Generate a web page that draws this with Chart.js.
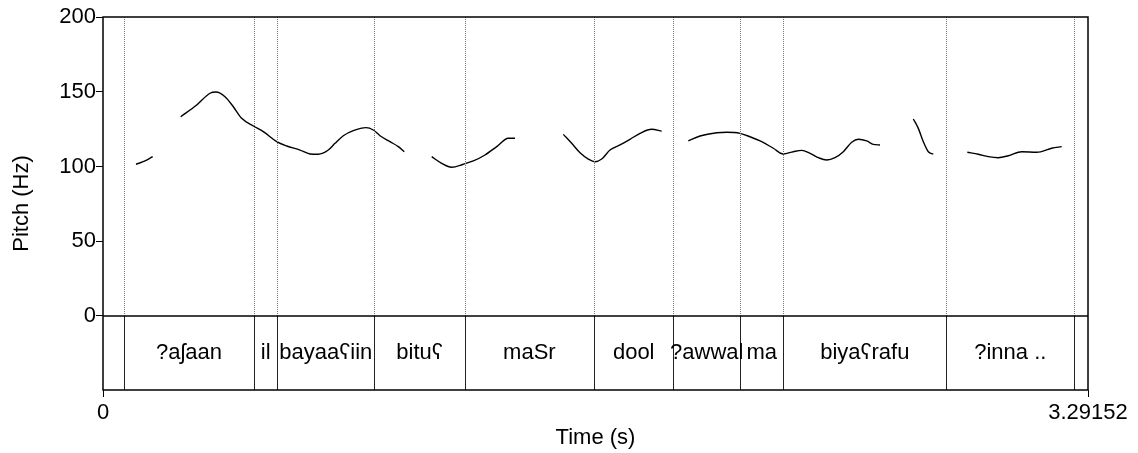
<!DOCTYPE html>
<html>
<head>
<meta charset="utf-8">
<script src="https://cdn.jsdelivr.net/npm/chart.js@4"></script>
<style>
  body { margin: 0; background: #fff; }
  #wrap { width: 1138px; height: 453px; position: relative; }
</style>
</head>
<body>
<div id="wrap"><canvas id="pitchChart"></canvas></div>
<script>
/* pitch track (s, Hz); null marks an unvoiced gap */
const pitchTimes = [
  0.1103, 0.1404, 0.1661, 0.20,
  0.2596, 0.3131, 0.3576, 0.3776, 0.4077, 0.4355, 0.4634, 0.5023, 0.5357, 0.5804,
  0.6139, 0.6583, 0.6917, 0.7195, 0.7530, 0.7753, 0.8031, 0.8365, 0.8789, 0.9033,
  0.9256, 0.9591, 0.9868, 1.0068, 1.05,
  1.0984, 1.1318, 1.1652, 1.2040, 1.2374, 1.2765, 1.3156, 1.3544, 1.3768, 1.45,
  1.5382, 1.5662, 1.5940, 1.6218, 1.6441, 1.6665, 1.6942, 1.7276, 1.7611, 1.7945,
  1.8336, 1.8670, 1.90,
  1.9559, 1.9950, 2.0508, 2.0842, 2.1287, 2.1621, 2.2012, 2.2399, 2.2733, 2.3068,
  2.3347, 2.3626, 2.3903, 2.4183, 2.4461, 2.4739, 2.5019, 2.5240, 2.5520, 2.5741,
  2.5965, 2.65,
  2.7078, 2.7245, 2.7412, 2.7579, 2.7746, 2.83,
  2.8883, 2.9250, 2.9584, 2.9918, 3.0253, 3.0700, 3.1201, 3.1702, 3.2037
];
const pitchHz = [
  101.5, 103.7, 106.6, null,
  133.3, 141.1, 149.0, 149.8, 146.7, 140.0, 132.2, 127.1, 123.3, 116.6,
  113.7, 111.0, 108.4, 108.2, 111.0, 115.5, 120.6, 124.0, 126.0, 124.4,
  120.6, 116.6, 113.3, 109.9, null,
  106.6, 102.1, 99.5, 101.5, 103.7, 107.7, 113.3, 118.9, 118.9, null,
  121.5, 115.5, 109.2, 105.0, 103.2, 105.0, 111.0, 114.4, 118.2, 122.2,
  124.9, 123.7, null,
  117.1, 120.4, 122.6, 122.9, 122.2, 119.9, 116.6, 112.2, 108.4, 109.9,
  110.8, 108.8, 105.9, 104.3, 105.9, 109.9, 116.2, 118.2, 117.1, 114.8,
  114.4, null,
  131.8, 125.5, 116.6, 109.9, 108.2, null,
  109.5, 108.2, 106.6, 105.9, 107.2, 109.9, 109.5, 112.2, 113.3
];

/* word tier: interval boundaries and their labels */
const boundaries = [0, 0.0702, 0.5046, 0.5825, 0.9066, 1.2087, 1.6408,
  1.9061, 2.1287, 2.2733, 2.8181, 3.2458, 3.29152];
const words = ['', '?aʃaan', 'il', 'bayaaʕiin', 'bituʕ', 'maSr', 'dool',
  '?awwal', 'ma', 'biyaʕrafu', '?inna ..', ''];

const xTicks = [0, 3.29152];
const yTicks = [0, 50, 100, 150, 200];

const FONT = "'Liberation Sans', Arial, Helvetica, sans-serif";

const textGrid = {
  id: "textGrid",
  afterDraw(chart) {
    const ctx = chart.ctx;
    const x = chart.scales.x, y = chart.scales.y;
    const a = chart.chartArea;
    const y0 = y.getPixelForValue(0);

    ctx.save();
    // dotted boundary lines over the pitch area
    ctx.strokeStyle = "#777";
    ctx.lineWidth = 1;
    ctx.setLineDash([1, 1]);
    for (let i = 1; i < boundaries.length - 1; i++) {
      const px = Math.round(x.getPixelForValue(boundaries[i])) + 0.5;
      ctx.beginPath();
      ctx.moveTo(px, a.top);
      ctx.lineTo(px, y0);
      ctx.stroke();
    }
    ctx.setLineDash([]);

    // solid boundaries in the tier
    ctx.strokeStyle = "#222";
    for (let i = 1; i < boundaries.length - 1; i++) {
      const px = Math.round(x.getPixelForValue(boundaries[i])) + 0.5;
      ctx.beginPath();
      ctx.moveTo(px, y0);
      ctx.lineTo(px, a.bottom);
      ctx.stroke();
    }

    // tier top line and outer frame
    ctx.strokeStyle = "#000";
    ctx.lineWidth = 1.5;
    ctx.beginPath();
    ctx.moveTo(a.left, y0);
    ctx.lineTo(a.right, y0);
    ctx.stroke();
    ctx.strokeRect(a.left, a.top, a.right - a.left, a.bottom - a.top);

    // word labels
    ctx.fillStyle = "#000";
    ctx.font = "22px " + FONT;
    ctx.textAlign = "center";
    ctx.textBaseline = "middle";
    const ty = (y0 + a.bottom) / 2;
    for (let i = 0; i < words.length; i++) {
      if (!words[i]) continue;
      const cx = (x.getPixelForValue(boundaries[i]) + x.getPixelForValue(boundaries[i + 1])) / 2;
      ctx.fillText(words[i], cx, ty);
    }
    ctx.restore();
  }
};

new Chart(
  document.getElementById("pitchChart"),
  {
    type: "line",
    data: {
      datasets: [{
        data: pitchTimes.map((t, i) => ({ x: t, y: pitchHz[i] })),
        borderColor: "#000",
        borderWidth: 1.4,
        pointRadius: 0,
        spanGaps: false,
        cubicInterpolationMode: "monotone",
        fill: false
      }]
    },
    options: {
      responsive: true,
      maintainAspectRatio: false,
      animation: false,
      devicePixelRatio: 1,
      layout: { padding: { left: 0, top: 17, right: 50, bottom: 0 } },
      plugins: {
        legend: { display: false },
        tooltip: { enabled: false }
      },
      scales: {
        x: {
          type: "linear",
          min: 0,
          max: 3.29152,
          afterBuildTicks: s => { s.ticks = xTicks.map(v => ({ value: v })); },
          afterFit: s => { s.height = 63; },
          ticks: {
            color: "#000",
            font: { family: FONT, size: 22 },
            padding: 3,
            maxRotation: 0,
            autoSkip: false,
            callback: v => String(v)
          },
          grid: { drawOnChartArea: false, drawTicks: true, tickLength: 7, color: "#000" },
          border: { display: false },
          title: {
            display: true,
            text: "Time (s)",
            color: "#000",
            font: { family: FONT, size: 22 },
            padding: { top: 0, bottom: 2 }
          }
        },
        y: {
          min: -49.5,
          max: 200,
          afterBuildTicks: s => { s.ticks = yTicks.map(v => ({ value: v })); },
          afterFit: s => { s.width = 103; },
          ticks: {
            color: "#000",
            font: { family: FONT, size: 22 },
            padding: 0,
            callback: v => String(v)
          },
          grid: { drawOnChartArea: false, drawTicks: true, tickLength: 7, color: "#000" },
          border: { display: false },
          title: {
            display: true,
            text: "Pitch (Hz)",
            color: "#000",
            font: { family: FONT, size: 22 },
            padding: { top: 9, bottom: 0 }
          }
        }
      }
    },
    plugins: [textGrid]
  }
);
</script>
</body>
</html>
